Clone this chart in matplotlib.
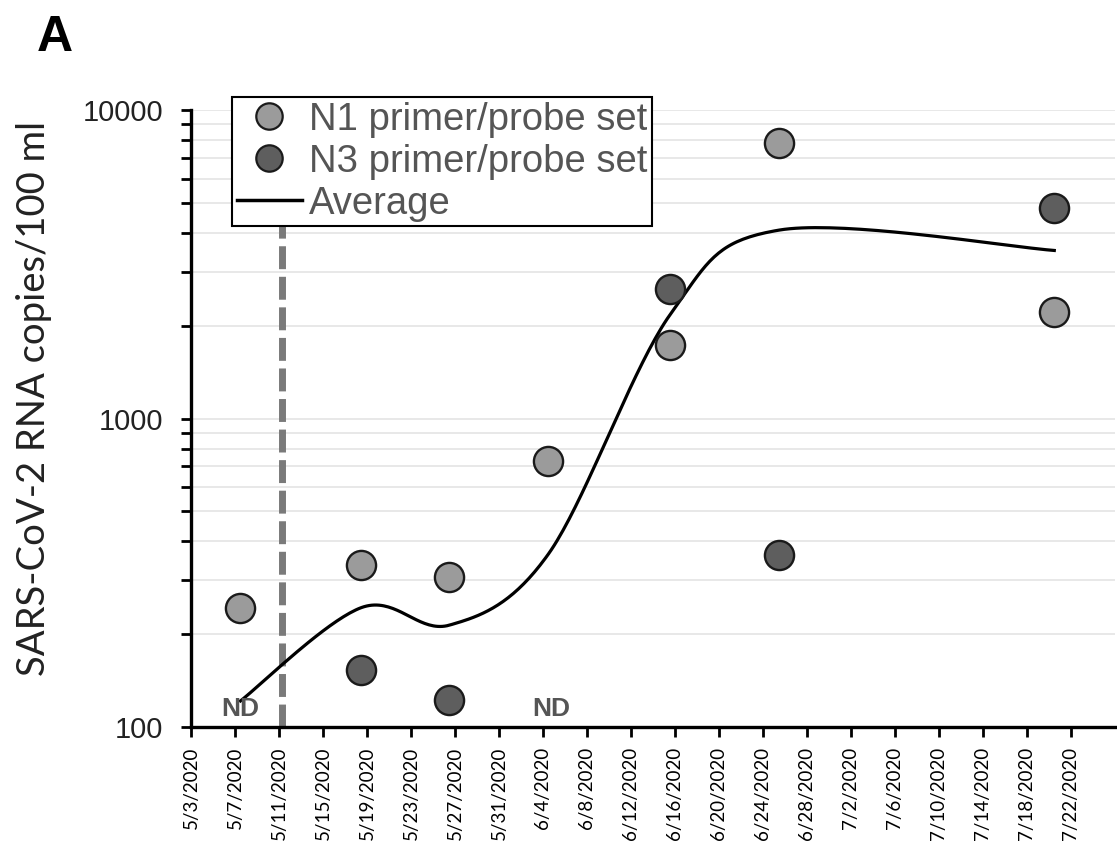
import numpy as np
import pandas as pd
import matplotlib
matplotlib.use("Agg")
import matplotlib.pyplot as plt
import matplotlib.dates as mdates
from matplotlib.lines import Line2D

# ----------------------------------------------------------------------
# Data (copies / 100 ml); NaN = not detected (ND)
# ----------------------------------------------------------------------
sample_dates = pd.to_datetime(["2020-05-07 12:00", "2020-05-18 12:00", "2020-05-26 12:00",
                               "2020-06-04 12:00", "2020-06-15 14:00", "2020-06-25 12:00",
                               "2020-07-20 12:00"])
n1_values = [243, 335, 306, 728, 1730, 7820, 2215]
n3_values = [np.nan, 153, 122, np.nan, 2630, 361, 4810]
nd_dates = pd.to_datetime(["2020-05-07 12:00", "2020-06-04 18:00"])
event_date = pd.to_datetime("2020-05-11 06:00")
tick_dates = pd.date_range("2020-05-03", "2020-07-22", freq="4D")

# average of both primer sets, ND counted as zero
avg_values = (np.array(n1_values) + np.nan_to_num(np.array(n3_values))) / 2


def smooth_curve(x, y, n=40):
    """Excel-like smoothed line (Catmull-Rom Bezier) in x / log10(y) space."""
    ly = np.log10(y)
    px = np.concatenate([[x[0]], x, [x[-1]]])
    py = np.concatenate([[ly[0]], ly, [ly[-1]]])
    xs, ys = [], []
    t = np.linspace(0, 1, n)
    for i in range(1, len(px) - 2):
        p0 = np.array([px[i], py[i]])
        p3 = np.array([px[i + 1], py[i + 1]])
        c1 = p0 + (np.array([px[i + 1], py[i + 1]]) - np.array([px[i - 1], py[i - 1]])) / 6
        c2 = p3 - (np.array([px[i + 2], py[i + 2]]) - np.array([px[i], py[i]])) / 6
        b = ((1 - t) ** 3)[:, None] * p0 + (3 * (1 - t) ** 2 * t)[:, None] * c1 \
            + (3 * (1 - t) * t ** 2)[:, None] * c2 + (t ** 3)[:, None] * p3
        xs.append(b[:, 0])
        ys.append(b[:, 1])
    return np.concatenate(xs), 10 ** np.concatenate(ys)


# ----------------------------------------------------------------------
# Figure
# ----------------------------------------------------------------------
plt.rcParams["font.family"] = ["Liberation Sans", "DejaVu Sans"]
fig = plt.figure(figsize=(11.17, 8.49), dpi=100)
ax = fig.add_axes([0.171, 0.1437, 0.827, 0.7263])

ax.set_yscale("log")
ax.set_ylim(100, 10000)
ax.set_xlim(mdates.date2num(pd.Timestamp("2020-05-03")),
            mdates.date2num(pd.Timestamp("2020-07-26")))

# light horizontal grid on every log step
for v in [k * 10 ** e for e in (2, 3) for k in range(1, 10)] + [10000]:
    ax.axhline(v, color="#e6e6e6", lw=1.3, zorder=0)

ax.axvline(mdates.date2num(event_date), color="#7a7a7a", lw=5,
           dashes=(3.3, 1.1), zorder=1)

xnum = mdates.date2num(sample_dates)
sx, sy = smooth_curve(xnum, avg_values)
ax.plot(sx, sy, color="black", lw=2.3, zorder=3)

ax.plot(xnum, n1_values, "o", ms=21, mfc="#9b9b9b", mec="#1a1a1a", mew=1.7, zorder=4)
ax.plot(xnum, n3_values, "o", ms=21, mfc="#5e5e5e", mec="#1a1a1a", mew=1.7, zorder=4)

for d in nd_dates:
    ax.text(mdates.date2num(d), 114, "ND", ha="center", va="center",
            fontsize=19, fontweight="bold", color="#555555", zorder=4)

# axes styling
for s in ("top", "right"):
    ax.spines[s].set_visible(False)
for s in ("left", "bottom"):
    ax.spines[s].set_linewidth(2.4)

ax.set_yticks([100, 1000, 10000])
ax.set_yticklabels(["100", "1000", "10000"], fontsize=21, color="#222222")
ax.yaxis.set_minor_locator(matplotlib.ticker.LogLocator(subs=np.arange(2, 10)))
ax.yaxis.set_minor_formatter(matplotlib.ticker.NullFormatter())
ax.tick_params(axis="y", which="both", direction="out", length=7, width=2, pad=13)

ax.set_xticks(mdates.date2num(tick_dates))
ax.set_xticklabels([f"{d.month}/{d.day}/{d.year}" for d in tick_dates],
                   rotation=90, fontsize=13.5, family="Lato")
ax.tick_params(axis="x", direction="out", length=7, width=2, pad=7)

ax.set_ylabel("SARS-CoV-2 RNA copies/100 ml", fontsize=27.5, family="Lato",
              color="#222222")
ax.yaxis.set_label_coords(-0.15, 0.533)

handles = [Line2D([], [], marker="o", ls="none", ms=19, mfc="#9b9b9b", mec="#1a1a1a", mew=1.6),
           Line2D([], [], marker="o", ls="none", ms=19, mfc="#5e5e5e", mec="#1a1a1a", mew=1.6),
           Line2D([], [], color="black", lw=2.5)]
leg = ax.legend(handles, ["N1 primer/probe set", "N3 primer/probe set", "Average"],
                loc="upper left", bbox_to_anchor=(232 / 1117, 1 - 97 / 849),
                bbox_transform=fig.transFigure, fontsize=27.5, labelcolor="#555555",
                frameon=True, fancybox=False, edgecolor="black", framealpha=1,
                borderpad=0.12, labelspacing=0.16, handlelength=1.7,
                handletextpad=0.2, borderaxespad=0)
leg.get_frame().set_linewidth(1.5)
leg.set_zorder(10)

fig.text(37 / 1117, 1 - 38 / 849, "A", fontsize=36, fontweight="bold",
         va="center", ha="left")

fig.savefig("out.png", dpi=100)
